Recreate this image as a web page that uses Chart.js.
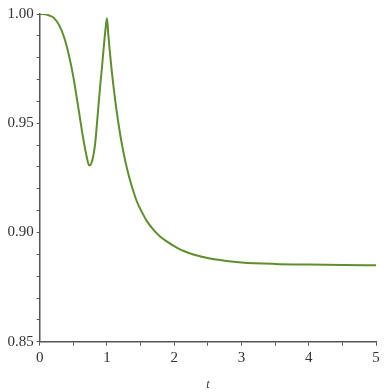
<!DOCTYPE html>
<html>
<head>
<meta charset="utf-8">
<script src="https://cdn.jsdelivr.net/npm/chart.js@4"></script>
<style>
html,body{margin:0;padding:0;background:#fff;}
#wrap{width:391px;height:392px;position:relative;}
</style>
</head>
<body>
<div id="wrap"><canvas id="c"></canvas></div>
<script>
// data
const tValues = [0, 0.05, 0.1, 0.15, 0.2, 0.25, 0.3, 0.35, 0.4, 0.45, 0.5, 0.575, 0.65, 0.7, 0.735, 0.77, 0.822, 0.86, 0.896, 0.93, 0.956, 0.98, 1.0, 1.02, 1.045, 1.1, 1.17, 1.243, 1.32, 1.38, 1.442, 1.52, 1.591, 1.69, 1.789, 1.9, 2.037, 2.15, 2.284, 2.532, 2.75, 3.0, 3.5, 4.0, 4.5, 5.0];
const yValues = [1.000, 1.000, 0.9998, 0.9992, 0.9985, 0.9968, 0.9942, 0.9905, 0.9855, 0.9790, 0.9712, 0.9570, 0.9425, 0.9345, 0.9307, 0.9318, 0.940, 0.953, 0.966, 0.977, 0.986, 0.9935, 0.998, 0.9907, 0.982, 0.9661, 0.950, 0.937, 0.9265, 0.9201, 0.9144, 0.9093, 0.9053, 0.9013, 0.8982, 0.8957, 0.8931, 0.8914, 0.8899, 0.8881, 0.8871, 0.8863, 0.8856, 0.8853, 0.8851, 0.885];
const xTickLabels = ['0', '1', '2', '3', '4', '5'];
const yTickLabels = ['0.85', '0.90', '0.95', '1.00'];
const xTitle = 't';

const points = tValues.map((t, i) => ({x: t, y: yValues[i]}));
const axisColor = '#555555';
const labelFont = {family: '"Liberation Serif", "Times New Roman", serif', size: 15};

new Chart(document.getElementById('c'), {
  type: 'line',
  data: {
    datasets: [{
      data: points,
      borderColor: '#5e8f2c',
      borderWidth: 2,
      pointRadius: 0,
      fill: false,
      cubicInterpolationMode: 'monotone'
    }]
  },
  options: {
    responsive: true,
    maintainAspectRatio: false,
    animation: false,
    events: [],
    layout: {padding: {left: 0, right: 15, top: 14, bottom: 0}},
    plugins: {legend: {display: false}, tooltip: {enabled: false}},
    scales: {
      x: {
        type: 'linear',
        min: 0, max: 5,
        border: {display: true, color: axisColor, width: 1.5},
        grid: {drawOnChartArea: false, drawTicks: true, tickLength: 4, color: axisColor, lineWidth: 1},
        ticks: {
          stepSize: 0.5,
          color: '#333',
          font: labelFont,
          padding: 3,
          maxRotation: 0,
          autoSkip: false,
          callback: (v) => {
            const s = String(Math.round(v * 10) / 10);
            return xTickLabels.includes(s) ? s : '';
          }
        },
        title: {
          display: true,
          text: xTitle,
          color: '#333',
          font: {family: '"Liberation Serif", "Times New Roman", serif', size: 12, style: 'italic'},
          padding: {top: 2, bottom: 0}
        },
        afterFit: (s) => { s.height = 50.3; }
      },
      y: {
        type: 'linear',
        min: 0.85, max: 1.0,
        border: {display: true, color: axisColor, width: 1.5},
        grid: {drawOnChartArea: false, drawTicks: true, tickLength: 3, color: axisColor, lineWidth: 1},
        ticks: {
          stepSize: 0.01,
          color: '#333',
          font: labelFont,
          padding: 3,
          autoSkip: false,
          callback: (v) => {
            const s = v.toFixed(2);
            return yTickLabels.includes(s) ? s : '';
          }
        },
        afterFit: (s) => { s.width = 39.7; }
      }
    }
  }
});
</script>
</body>
</html>
